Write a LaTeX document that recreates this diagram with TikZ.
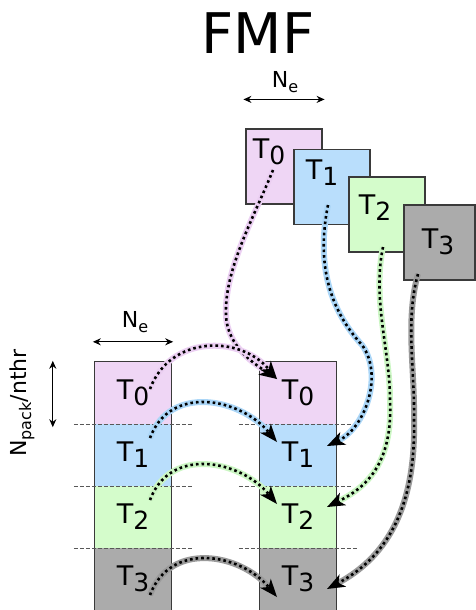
\documentclass[tikz,border=0pt]{standalone}
\usepackage{fontspec}
\setmainfont{DejaVu Sans}
\usetikzlibrary{arrows.meta}
\definecolor{fmfPink}{HTML}{EFD6F5}
\definecolor{fmfBlue}{HTML}{B9DEFC}
\definecolor{fmfGreen}{HTML}{D4FCCB}
\definecolor{fmfGray}{HTML}{ABABAB}
\definecolor{fmfEdge}{HTML}{3A3A3A}
\definecolor{fmfPinkGlow}{HTML}{EBCFF2}
\definecolor{fmfBlueGlow}{HTML}{ABD6F7}
\definecolor{fmfGreenGlow}{HTML}{CBF6C3}
\definecolor{fmfGrayGlow}{HTML}{9A9A9A}

\newcommand{\tsub}[2]{#1\raisebox{-6pt}{\fontsize{25}{25}\selectfont #2}}
\newcommand{\dimsub}[2]{#1\raisebox{-5pt}{\fontsize{16}{16}\selectfont #2}}

\tikzset{
  tbox/.style={draw=fmfEdge, line width=1.2pt, minimum width=76pt,
               minimum height=75pt, inner sep=0pt},
  seg/.style={minimum width=76pt, minimum height=62pt, inner sep=0pt,
              font=\fontsize{27}{27}\selectfont},
  tlabel/.style={inner sep=0pt, font=\fontsize{27}{27}\selectfont},
  dimlabel/.style={inner sep=0pt, font=\fontsize{22}{22}\selectfont},
  coledge/.style={draw=fmfEdge, line width=1.2pt},
  divider/.style={draw=fmfEdge!85, line width=0.8pt, dash pattern=on 4pt off 2pt},
  dimarrow/.style={line width=1.2pt,
                   {Stealth[length=8pt,width=7pt]}-{Stealth[length=8pt,width=7pt]}},
  moveto/.style={line width=2.6pt, dash pattern=on 2.6pt off 3pt,
                 -{Stealth[length=18pt,width=14pt,inset=5pt,line width=0pt]},
                 preaction={draw=#1, line width=6pt, solid, arrows=-, shorten >=12pt}},
}

\begin{document}
\begin{tikzpicture}[x=1pt,y=-1pt]
  \useasboundingbox (0,0) rectangle (476,610);

  % title
  \node[inner sep=0pt, font=\fontsize{56}{56}\selectfont] (title) at (258,33) {FMF};

  % packed threads, one block each
  \node[tbox, fill=fmfPink] (top0) at (284,166.5) {};
  \node[tlabel] (top0lab) at (269,152) {\tsub{T}{0}};
  \node[tbox, fill=fmfBlue] (top1) at (332,187) {};
  \node[tlabel] (top1lab) at (322,173) {\tsub{T}{1}};
  \node[tbox, fill=fmfGreen] (top2) at (387,214.5) {};
  \node[tlabel] (top2lab) at (375,208) {\tsub{T}{2}};
  \node[tbox, fill=fmfGray, minimum width=71pt] (top3) at (439.5,242.5) {};
  \node[tlabel] (top3lab) at (438,242) {\tsub{T}{3}};

  \node[dimlabel] (neTop) at (285,82) {\dimsub{N}{e}};
  \draw[dimarrow] ([shift={(-2pt,29pt)}]top0.north west) -- ([shift={(2pt,29pt)}]top0.north east);

  % left column
  \node[seg, fill=fmfPink] (L0) at (133,393) {\tsub{T}{0}};
  \node[seg, fill=fmfBlue] (L1) at (133,455) {\tsub{T}{1}};
  \node[seg, fill=fmfGreen] (L2) at (133,517) {\tsub{T}{2}};
  \node[seg, fill=fmfGray] (L3) at (133,579) {\tsub{T}{3}};
  \draw[coledge] (L0.north west) rectangle (L3.south east);
  \draw[divider] ([xshift=-21pt]L0.south west) -- ([xshift=21pt]L0.south east);
  \draw[divider] ([xshift=-21pt]L1.south west) -- ([xshift=21pt]L1.south east);
  \draw[divider] ([xshift=-21pt]L2.south west) -- ([xshift=21pt]L2.south east);

  \node[dimlabel] (neLeft) at (135,322) {\dimsub{N}{e}};
  \draw[dimarrow] ([shift={(-2pt,20pt)}]L0.north west) -- ([shift={(2pt,20pt)}]L0.north east);
  \draw[dimarrow] ([shift={(-42pt,1pt)}]L0.north west) -- ([shift={(-42pt,-3pt)}]L0.south west);
  \node[dimlabel, rotate=90] (npack) at (22,403) {\dimsub{N}{pack}/nthr};

  % right column
  \node[seg, fill=fmfPink] (R0) at (298,393) {\tsub{T}{0}};
  \node[seg, fill=fmfBlue] (R1) at (298,455) {\tsub{T}{1}};
  \node[seg, fill=fmfGreen] (R2) at (298,517) {\tsub{T}{2}};
  \node[seg, fill=fmfGray] (R3) at (298,579) {\tsub{T}{3}};
  \draw[coledge] (R0.north west) rectangle (R3.south east);
  \draw[divider] ([xshift=-21pt]R0.south west) -- ([xshift=16pt]R0.south east);
  \draw[divider] ([xshift=-21pt]R1.south west) -- ([xshift=16pt]R1.south east);
  \draw[divider] ([xshift=-21pt]R2.south west) -- ([xshift=21pt]R2.south east);

  % moves from the packed blocks
  \coordinate (t0s) at (273,170);
  \coordinate (t1s) at (328,205);
  \coordinate (t2s) at (383,247);
  \coordinate (t3s) at (418,274);
  \coordinate (l0s) at (150,389);
  \coordinate (l1s) at (150,438);
  \coordinate (l2s) at (150,500);
  \coordinate (l3s) at (150,595);
  \coordinate (r0e) at (277,379);
  \coordinate (r1e) at (277,442);
  \coordinate (r2e) at (277,504);
  \coordinate (r3e) at (277,597);
  \coordinate (r1f) at (327,446);
  \coordinate (r2f) at (327,507);
  \coordinate (r3f) at (327,589);

  \draw[moveto=fmfPinkGlow] (t0s) .. controls (255,215) and (224,270) .. (226,315)
        .. controls (227,348) and (258,366) .. (r0e);
  \draw[moveto=fmfBlueGlow] (t1s) .. controls (316,265) and (330,310) .. (362,345)
        .. controls (384,375) and (365,428) .. (r1f);
  \draw[moveto=fmfGreenGlow] (t2s) .. controls (372,300) and (390,350) .. (390,400)
        .. controls (393,465) and (365,488) .. (r2f);
  \draw[moveto=fmfGrayGlow] (t3s) .. controls (405,320) and (415,370) .. (414,420)
        .. controls (416,510) and (385,558) .. (r3f);

  \draw[moveto=fmfPinkGlow] (l0s) .. controls (170,335) and (240,335) .. (r0e);
  \draw[moveto=fmfBlueGlow] (l1s) .. controls (170,384) and (240,398) .. (r1e);
  \draw[moveto=fmfGreenGlow] (l2s) .. controls (170,446) and (240,460) .. (r2e);
  \draw[moveto=fmfGrayGlow] (l3s) .. controls (170,541) and (240,553) .. (r3e);
\end{tikzpicture}
\end{document}
